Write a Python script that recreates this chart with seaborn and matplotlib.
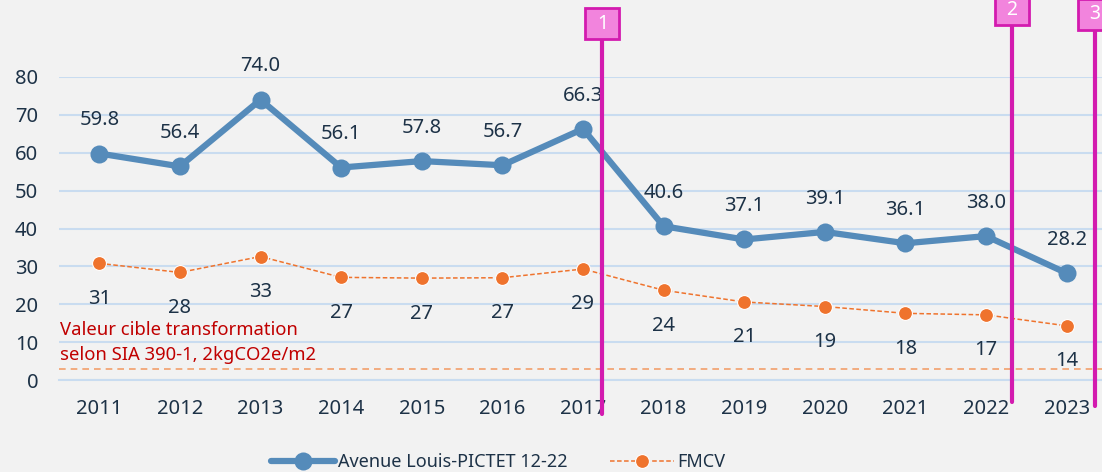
import numpy as np
import pandas as pd
import seaborn as sns
import matplotlib.pyplot as plt
from matplotlib.patches import Rectangle

# Data
years = ["2011", "2012", "2013", "2014", "2015", "2016", "2017",
         "2018", "2019", "2020", "2021", "2022", "2023"]
pictet = [59.8, 56.4, 74.0, 56.1, 57.8, 56.7, 66.3, 40.6, 37.1, 39.1, 36.1, 38.0, 28.2]
fmcv = [30.8, 28.4, 32.6, 27.1, 26.9, 27.0, 29.3, 23.7, 20.6, 19.4, 17.6, 17.2, 14.3]
target_value = 3.0
target_text = ["Valeur cible transformation", "selon SIA 390-1, 2kgCO2e/m2"]
milestones = ["1", "2", "3"]
milestone_pos = [6.24, 11.32, 12.35]

# Colours
BG = "#F2F2F2"
TXT = "#1D3247"
BLUE = "#558BBA"
ORANGE = "#EF732D"
MAGENTA = "#D31BAF"
PINK = "#F284DD"
GRID = "#C9DCF0"

sns.set_theme(style="white")
plt.rcParams["font.family"] = ["Noto Sans", "DejaVu Sans"]

df = pd.DataFrame({"pos": np.arange(len(years)), "pictet": pictet, "fmcv": fmcv})

fig = plt.figure(figsize=(11.02, 4.72), dpi=100, facecolor=BG)
ax = fig.add_axes([59 / 1102, 92 / 472, 1048 / 1102, 303 / 472])
ax.set_facecolor(BG)

sns.lineplot(data=df, x="pos", y="pictet", ax=ax, color=BLUE, linewidth=4.5,
             marker="o", markersize=13, markeredgewidth=0,
             label="Avenue Louis-PICTET 12-22", zorder=4)
sns.lineplot(data=df, x="pos", y="fmcv", ax=ax, color=ORANGE, linewidth=1.1,
             linestyle=(0, (3, 1.6)), marker="o", markersize=10,
             markeredgecolor="white", markeredgewidth=0.8, label="FMCV", zorder=4)

# data labels
for i, v in enumerate(pictet):
    ax.annotate(f"{v:.1f}", (i, v), xytext=(0, 24), textcoords="offset points",
                ha="center", va="center", fontsize=14.5, color=TXT)
for i, v in enumerate(fmcv):
    ax.annotate(f"{v:.0f}", (i, v), xytext=(0, -25.5), textcoords="offset points",
                ha="center", va="center", fontsize=14.5, color=TXT)

# target line
ax.axhline(target_value, color="#F2A06C", linewidth=1.2, linestyle=(0, (4, 3)), zorder=2)
ax.text(-0.49, 13.2, target_text[0], color="#C00000", fontsize=13.3, va="center", ha="left")
ax.text(-0.49, 6.6, target_text[1], color="#C00000", fontsize=13.3, va="center", ha="left")

# milestones
bottoms = [-9.0, -5.8, -6.9]
box_y = [94.1, 97.7, 96.6]
for lab, xp, yb, yc in zip(milestones, milestone_pos, bottoms, box_y):
    ax.plot([xp, xp], [yb, yc], color=MAGENTA, linewidth=3, clip_on=False, zorder=6)
    w, h = 0.42, 8.2
    ax.add_patch(Rectangle((xp - w / 2, yc - h / 2), w, h, facecolor=PINK,
                           edgecolor=MAGENTA, linewidth=2, clip_on=False, zorder=7))
    ax.text(xp, yc, lab, color="white", fontsize=14, ha="center", va="center",
            zorder=8, clip_on=False)

# axes styling
ax.set_xlim(-0.5, len(years) - 0.5)
ax.set_ylim(0, 80)
ax.set_yticks(range(0, 90, 10))
ax.set_xticks(range(len(years)))
ax.set_xticklabels(years)
ax.set_xticks(np.arange(0.5, len(years) - 0.5, 1), minor=True)
ax.yaxis.grid(True, color=GRID, linewidth=1.5)
ax.set_axisbelow(True)
for s in ["top", "right", "left"]:
    ax.spines[s].set_visible(False)
ax.spines["bottom"].set_color(GRID)
ax.spines["bottom"].set_linewidth(1.5)
ax.tick_params(axis="x", which="major", length=0, pad=14, labelsize=14.5, labelcolor=TXT)
ax.tick_params(axis="x", which="minor", length=5, width=1.5, color=GRID)
ax.tick_params(axis="y", length=0, pad=15, labelsize=14.5, labelcolor=TXT)
ax.set_xlabel("")
ax.set_ylabel("")

handles, labels = ax.get_legend_handles_labels()
ax.get_legend().remove()
fig.legend(handles, labels, loc="center", bbox_to_anchor=(498 / 1102, 1 - 462 / 472),
           ncol=2, frameon=False, fontsize=13, handlelength=3.55, columnspacing=2.3,
           handletextpad=0.2, labelcolor=TXT)

fig.savefig("out.png", dpi=100, facecolor=BG)
